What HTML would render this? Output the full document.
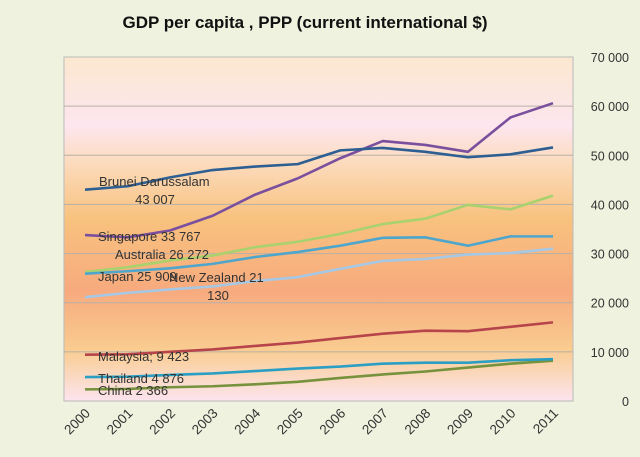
<!DOCTYPE html>
<html><head><meta charset="utf-8"><style>
body{margin:0;background:#eef2de;}
svg{display:block;font-family:"Liberation Sans",sans-serif;}
</style></head><body>
<svg id="c" width="640" height="457">
<defs>
<linearGradient id="bg" x1="0" y1="0" x2="0" y2="1">
<stop offset="0" stop-color="#fce7cf"/>
<stop offset="0.2" stop-color="#fde6ef"/>
<stop offset="0.3" stop-color="#fcdcc0"/>
<stop offset="0.47" stop-color="#f8c27e"/>
<stop offset="0.68" stop-color="#f7aa7e"/>
<stop offset="0.85" stop-color="#f9cc90"/>
<stop offset="1" stop-color="#fce4ee"/>
</linearGradient>
</defs>
<rect width="640" height="457" fill="#eef2de"/>
<text x="305" y="28" text-anchor="middle" font-size="17" font-weight="bold" fill="#111">GDP per capita , PPP (current  international $)</text>
<rect x="64" y="57" width="509" height="344" fill="url(#bg)" stroke="#bbb"/>
<g id="grid"></g><g id="lines"></g><g id="labels"></g>
</svg>
<script>
const years=["2000","2001","2002","2003","2004","2005","2006","2007","2008","2009","2010","2011"];
const yTicks=[0,10000,20000,30000,40000,50000,60000,70000];
const yTickLabels=["0","10 000","20 000","30 000","40 000","50 000","60 000","70 000"];
const brunei=[43007,43700,45500,47000,47700,48200,51000,51500,50700,49600,50200,51600];
const singapore=[33767,33300,34700,37700,42000,45300,49400,52900,52100,50700,57700,60600];
const australia=[26272,27200,28600,29600,31300,32400,34000,36000,37100,39900,39000,41800];
const japan=[25909,26400,27000,27900,29300,30300,31600,33200,33300,31600,33500,33500];
const newZealand=[21130,22000,22700,23300,24400,25200,26900,28500,28900,29800,30100,31000];
const malaysia=[9423,9500,10000,10500,11200,11900,12800,13700,14300,14200,15100,16000];
const thailand=[4876,4950,5300,5600,6100,6600,7000,7600,7800,7800,8300,8500];
const china=[2366,2450,2800,3000,3400,3900,4700,5400,6000,6800,7600,8200];
const X=i=>85+i*(553-85)/11;
const Y=v=>401-v*(344/70000);
const NS="http://www.w3.org/2000/svg";
function mk(t,a,p){const e=document.createElementNS(NS,t);for(const k in a)e.setAttribute(k,a[k]);p.appendChild(e);return e;}
const grid=document.getElementById('grid'),lines=document.getElementById('lines'),labels=document.getElementById('labels');
yTicks.forEach((v,i)=>{
 if(v>0&&v<70000){const l=mk('line',{x1:64,x2:573,y1:Y(v),y2:Y(v),stroke:'#b8b0a8','stroke-width':1},grid);
 
 }
 const t=mk('text',{x:629,y:Y(v)+5,'text-anchor':'end','font-size':12.5,fill:'#333'},grid);
 t.textContent=yTickLabels[i];
 
 
});
years.forEach((y,i)=>{
 const t=mk('text',{x:X(i)+6,y:414,'text-anchor':'end','font-size':13.5,fill:'#333',transform:`rotate(-45 ${X(i)+6} 414)`},grid);
 t.textContent=y;
 
 
});
const series=[[newZealand,'#a6c8e4','new-zealand'],[australia,'#a9d26f','australia'],[japan,'#4ea6cc','japan'],[china,'#76923c','china'],[thailand,'#2b9fc3','thailand'],[malaysia,'#b6444a','malaysia'],[singapore,'#7a4f9e','singapore'],[brunei,'#2d5f92','brunei']];
series.forEach(([d,c,n])=>{
 const p=mk('polyline',{points:d.map((v,i)=>X(i)+','+Y(v)).join(' '),fill:'none',stroke:c,'stroke-width':2.6,'stroke-linejoin':'round'},lines);
 
 
});
const lbl=[["Brunei Darussalam",99,186,'start'],["43 007",155,204,'middle'],["Singapore 33 767",98,241,'start'],["Australia 26 272",115,259,'start'],["Japan 25 909",98,281,'start'],["New Zealand 21",169,282,'start'],["130",218,300,'middle'],["Malaysia; 9 423",98,361,'start'],["Thailand 4 876",98,383,'start'],["China 2 366",98,395,'start']];
lbl.forEach(([s,x,y,a])=>{
 const t=mk('text',{x:x,y:y,'text-anchor':a,'font-size':13,fill:'#333'},labels);
 t.textContent=s;
 
 
});
</script>
</body></html>
